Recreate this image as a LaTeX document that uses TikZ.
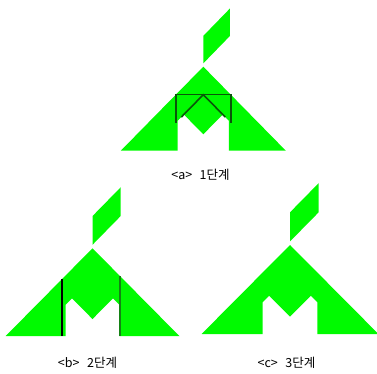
\documentclass[tikz,border=0pt]{standalone}
\usepackage{fontspec}
\newfontfamily\kofont{Noto Sans CJK KR}
\definecolor{lime}{RGB}{0,250,0}
\definecolor{pieceline}{RGB}{10,85,10}
\definecolor{faintline}{RGB}{20,130,20}

\begin{document}
\begin{tikzpicture}[x=1pt, y=-1pt, every node/.style={font=\kofont\fontsize{12.5}{14}\selectfont}]
    \useasboundingbox (0,0) rectangle (377,374);
    % three stages of the same tangram figure
    \foreach \ox/\oy/\ux/\uy/\mode in {203.3/66.7/27.5/28/0, 92.5/248.3/29/29.3/1, 290/245/29.5/29.7/2} {
        \begin{scope}[shift={(\ox pt,-\oy pt)}, x=\ux pt, y=\uy pt]
            \fill[lime] (0,0.12) -- (0,1.1) -- (0.97,2.08) -- (0.97,1.1) -- cycle;
            \fill[lime] (0,0) -- (3,-3) -- (0.93,-3) -- (0.93,-1.93) -- (0.707,-1.707) -- (0,-2.414)
                -- (-0.707,-1.707) -- (-0.93,-1.93) -- (-0.93,-3) -- (-3,-3) -- cycle;
            \ifnum\mode=0
                \draw[pieceline, line width=1.6pt] (-1,-2) -- (-1,-1) -- (1,-1) -- (1,-2);
                \draw[pieceline, line width=1.6pt] (-0.8,-1.8) -- (0,-1) -- (0.8,-1.8);
            \fi
            \ifnum\mode=1
                \draw[black, line width=1.3pt] (-1.05,-1.05) -- (-1.05,-3);
                \draw[faintline, line width=1.3pt] (0.95,-0.95) -- (0.95,-3);
            \fi
        \end{scope}
    }
    \node (capa) at (200.5,175) {<a>\hspace{0.6em}1단계};
    \node (capb) at (87.5,363) {<b>\hspace{0.6em}2단계};
    \node (capc) at (286.5,362.5) {<c>\hspace{0.6em}3단계};
\end{tikzpicture}
\end{document}
